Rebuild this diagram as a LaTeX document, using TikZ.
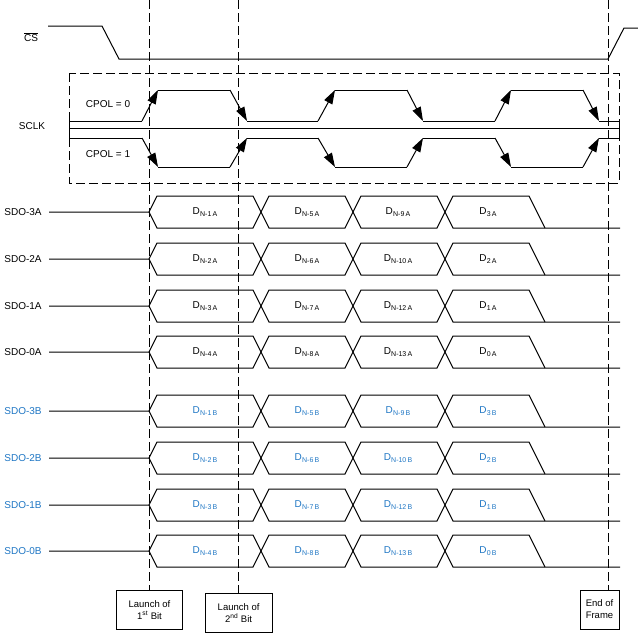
\documentclass[tikz,border=0pt]{standalone}
\usepackage{fontspec}
\setmainfont{Liberation Sans}
\usetikzlibrary{arrows.meta}
\definecolor{tiblue}{RGB}{30,118,196}
\newcommand\dsub[2]{D\kern0.2pt\raisebox{-0.35ex}{\fontsize{7}{8}\selectfont #1\,#2}}
% #1 y, #2 colour, #3 name, #4 letter, #5-#8 subscripts, #9 id
\newcommand\busrow[9]{%
  \node[lbl,text=#2] (n#9) at (23,#1) {#3};
  \draw (49,#1) -- (149,#1) -- (157,#1-16) -- (253,#1-16) -- (269,#1+16) -- (345,#1+16)
        -- (361,#1-16) -- (437,#1-16) -- (453,#1+16) -- (620,#1+16);
  \draw (149,#1) -- (157,#1+16) -- (253,#1+16) -- (269,#1-16) -- (345,#1-16)
        -- (361,#1+16) -- (437,#1+16) -- (453,#1-16) -- (529,#1-16) -- (545,#1+16);
  \node[dlbl,text=#2] (a#9) at (205,#1) {\dsub{#5}{#4}};
  \node[dlbl,text=#2] (b#9) at (307,#1) {\dsub{#6}{#4}};
  \node[dlbl,text=#2] (c#9) at (398,#1) {\dsub{#7}{#4}};
  \node[dlbl,text=#2] (d#9) at (488,#1) {\dsub{#8}{#4}};
}
\begin{document}
\begin{tikzpicture}[x=1pt,y=-1pt,line width=1pt,line join=miter,
  lbl/.style={font=\fontsize{10}{12}\selectfont,inner sep=0pt},
  dlbl/.style={font=\fontsize{10}{12}\selectfont,inner sep=0pt},
  guide/.style={dash pattern=on 9pt off 4pt},
  clkedge/.style={-{Triangle[length=14pt,width=9pt]}},
  callout/.style={draw,font=\fontsize{9.5}{12}\selectfont,align=center,inner sep=0pt,minimum height=39pt}]
\useasboundingbox (0,0) rectangle (638,635);

% CS
\node[lbl] (cs) at (31,37) {$\overline{\hbox{\fontsize{10}{12}\selectfont CS}}$};
\draw (48,26) -- (102,26) -- (119,59) -- (608,59) -- (624,28) -- (638,28);

% SCLK
\draw[guide] (69,73) rectangle (619,183);
\node[lbl] (sclk) at (32,126) {SCLK};
\node[lbl] (cpol0) at (108,104) {CPOL = 0};
\node[lbl] (cpol1) at (108,154) {CPOL = 1};
\draw (69,120) -- (69,138);
\draw (619,120) -- (619,138);
\draw (69,128) -- (619,128);
% CPOL = 0
\draw (69,121) -- (142,121);
\draw (158,90) -- (230,90);
\draw (247,121) -- (318,121);
\draw (335,90) -- (407,90);
\draw (423,121) -- (495,121);
\draw (511,90) -- (583,90);
\draw (599,121) -- (619,121);
\draw[clkedge] (142,121) -- (158,90);
\draw[clkedge] (230,90) -- (247,121);
\draw[clkedge] (318,121) -- (335,90);
\draw[clkedge] (407,90) -- (423,121);
\draw[clkedge] (495,121) -- (511,90);
\draw[clkedge] (583,90) -- (599,121);
% CPOL = 1
\draw (69,138) -- (142,138);
\draw (158,167) -- (230,167);
\draw (247,138) -- (318,138);
\draw (335,167) -- (407,167);
\draw (423,138) -- (495,138);
\draw (511,167) -- (583,167);
\draw (599,138) -- (619,138);
\draw[clkedge] (142,138) -- (158,167);
\draw[clkedge] (230,167) -- (247,138);
\draw[clkedge] (318,138) -- (335,167);
\draw[clkedge] (407,167) -- (423,138);
\draw[clkedge] (495,138) -- (511,167);
\draw[clkedge] (583,167) -- (599,138);

% data rows
\busrow{212}{black}{SDO-3A}{A}{N-1}{N-5}{N-9}{3}{r3a}
\busrow{259}{black}{SDO-2A}{A}{N-2}{N-6}{N-10}{2}{r2a}
\busrow{306}{black}{SDO-1A}{A}{N-3}{N-7}{N-12}{1}{r1a}
\busrow{352}{black}{SDO-0A}{A}{N-4}{N-8}{N-13}{0}{r0a}
\busrow{411}{tiblue}{SDO-3B}{B}{N-1}{N-5}{N-9}{3}{r3b}
\busrow{458}{tiblue}{SDO-2B}{B}{N-2}{N-6}{N-10}{2}{r2b}
\busrow{505}{tiblue}{SDO-1B}{B}{N-3}{N-7}{N-12}{1}{r1b}
\busrow{551}{tiblue}{SDO-0B}{B}{N-4}{N-8}{N-13}{0}{r0b}

% callouts
\node[callout,minimum width=66pt] (first) at (149.5,609.7) {Launch of\\1\textsuperscript{st} Bit};
\node[callout,minimum width=67pt] (second) at (238.6,613.3) {Launch of\\2\textsuperscript{nd} Bit};
\node[callout,minimum width=39pt] (eof) at (599.5,609.5) {End of\\Frame};
\coordinate (g1) at (149.5,0);
\coordinate (g2) at (238.6,0);
\coordinate (g3) at (608,0);
\draw[guide] (g1) -- (first.north);
\draw[guide] (g2) -- (second.north);
\draw[guide] (g3) -- (g3 |- eof.north);
\end{tikzpicture}
\end{document}
